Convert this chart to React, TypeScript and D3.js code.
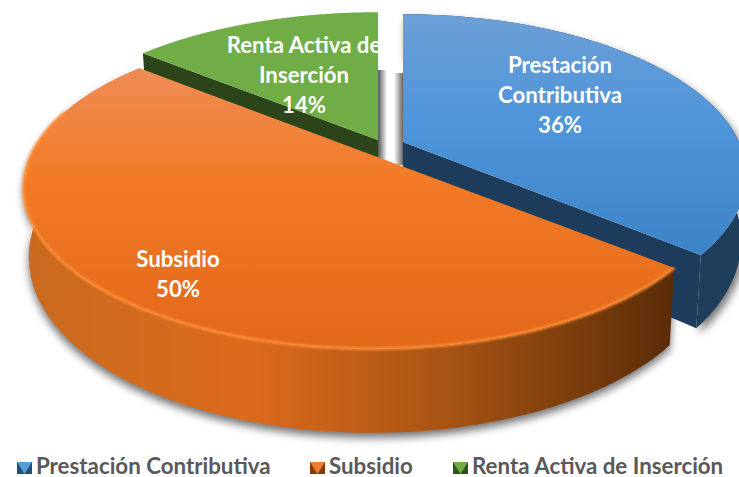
import React from "react";
import * as d3 from "d3";

const width = 739;
const height = 477;

const categories = ["Prestación Contributiva", "Subsidio", "Renta Activa de Inserción"];
const shares = [36, 50, 14];
const labelLines = [["Prestación", "Contributiva", "36%"], ["Subsidio", "50%"], ["Renta Activa de", "Inserción", "14%"]];

// where each exploded slice sits and how big it is
const apexX = [403, 372, 378];
const apexY = [142, 155, 140];
const radiusX = [336, 341, 345];
const rimDepth = [0.95, 1, 1];
const labelX = [560, 178, 304];
const labelY = [73, 267, 53];
const legendX = [17, 310, 453];
const keyLight = ["#5b9bd5", "#ed7d31", "#70ad47"];
const keyDark = ["#1f4e79", "#843c0c", "#2f5220"];

const radiusY = 154;
const persp = 0.205;
const baseScale = 0.985;

const pie = d3.pie<number>().sort(null).value(d => d);
const slices = pie(shares);
const line = d3.line();

// perspective projection of a point on the disc
const project = (i: number, a: number, r: number, base = false): [number, number] => {
  const X = r * Math.sin(a);
  const Y = -r * Math.cos(a);
  const w = 1 - persp * Y;
  const s = base ? baseScale : 1;
  const depth = base ? rimDepth[i] * (65 + 22 * Y) : 0;
  return [apexX[i] + (s * radiusX[i] * X) / w, apexY[i] + (s * radiusY * Y) / w + depth];
};

const arcPoints = (i: number, from: number, to: number, base = false) =>
  d3.range(0, 121).map(k => project(i, from + ((to - from) * k) / 120, 1, base));

const topFace = (i: number) => {
  const s = slices[i];
  return line([project(i, 0, 0), ...arcPoints(i, s.startAngle, s.endAngle)]) + "Z";
};
const rim = (i: number) => {
  const s = slices[i];
  return line([...arcPoints(i, s.startAngle, s.endAngle), ...arcPoints(i, s.endAngle, s.startAngle, true)]) + "Z";
};
const cutWall = (i: number, a: number) =>
  line([project(i, 0, 0), project(i, a, 1), project(i, a, 1, true), project(i, 0, 0, true)]) + "Z";

const App = () => (
  <svg width={width} height={height} style={{ position: "absolute", left: 0, top: 0, background: "#fff" }}
    fontFamily="Lato, 'Open Sans', sans-serif" fontWeight={700}>
    <defs>
      <linearGradient id="blueTop" x1="0" y1="0" x2="0" y2="1">
        <stop offset="0" stopColor="#6c9fd6" />
        <stop offset="0.45" stopColor="#4f95da" />
        <stop offset="1" stopColor="#3d83c8" />
      </linearGradient>
      <linearGradient id="orangeTop" x1="0" y1="0" x2="0" y2="1">
        <stop offset="0" stopColor="#ee8c55" />
        <stop offset="0.4" stopColor="#f27a26" />
        <stop offset="1" stopColor="#e2681a" />
      </linearGradient>
      <linearGradient id="orangeRim" x1="0" y1="0" x2="1" y2="0">
        <stop offset="0" stopColor="#c96a20" />
        <stop offset="0.35" stopColor="#dc6a1c" />
        <stop offset="0.65" stopColor="#a85414" />
        <stop offset="1" stopColor="#5a2c08" />
      </linearGradient>
      <linearGradient id="gapLeft" x1="0" y1="0" x2="1" y2="0">
        <stop offset="0" stopColor="#555" />
        <stop offset="1" stopColor="#555" stopOpacity={0} />
      </linearGradient>
      <linearGradient id="gapRight" x1="0" y1="0" x2="1" y2="0">
        <stop offset="0" stopColor="#555" stopOpacity={0} />
        <stop offset="1" stopColor="#555" />
      </linearGradient>
      <filter id="soft" x="-10%" y="-10%" width="120%" height="130%">
        <feGaussianBlur stdDeviation="4" />
      </filter>
      <filter id="bevel" x="-5%" y="-5%" width="110%" height="110%">
        <feGaussianBlur stdDeviation="0.9" />
      </filter>
    </defs>

    {/* shadows under the slices */}
    <path d={rim(0)} fill="#000" opacity={0.55} filter="url(#soft)" transform="translate(3,5)" />
    <path d={rim(1)} fill="#000" opacity={0.55} filter="url(#soft)" transform="translate(0,5)" />
    <rect x={378} y={70} width={9} height={92} fill="url(#gapLeft)" />
    <rect x={394} y={73} width={10} height={92} fill="url(#gapRight)" />

    {/* green */}
    <path d={cutWall(2, slices[2].startAngle)} fill="#2c451b" />
    <path d={topFace(2)} fill="#70ad47" />

    {/* blue */}
    <path d={rim(0)} fill="#1f3e5c" />
    <path d={cutWall(0, slices[0].endAngle)} fill="#1e3d5c" />
    <path d={topFace(0)} fill="url(#blueTop)" />

    {/* orange */}
    <path d={rim(1)} fill="url(#orangeRim)" />
    <path d={topFace(1)} fill="url(#orangeTop)" />
    <path d={line(arcPoints(1, slices[1].startAngle, slices[1].startAngle + 2.75))!} fill="none" stroke="#ff9038" strokeWidth={3}
      opacity={0.85} filter="url(#bevel)" />

    {labelLines.map((lines, i) =>
      lines.map((t, j) => (
        <text key={`${i}-${j}`} x={labelX[i]} y={labelY[i] + j * 30} fill="#fff" fontSize={22.2} textAnchor="middle">
          {t}
        </text>
      ))
    )}

    {categories.map((c, i) => (
      <g key={c}>
        <g transform={`translate(${legendX[i]},462)`}>
          <rect width={15} height={12} fill={keyDark[i]} />
          <path d={line([[0, 0], [15, 0], [7.5, 12]])!} fill={keyLight[i]} />
        </g>
        <text x={legendX[i] + 19} y={474} fill="#595959" fontSize={22.3}>
          {c}
        </text>
      </g>
    ))}
  </svg>
);

export default App;
